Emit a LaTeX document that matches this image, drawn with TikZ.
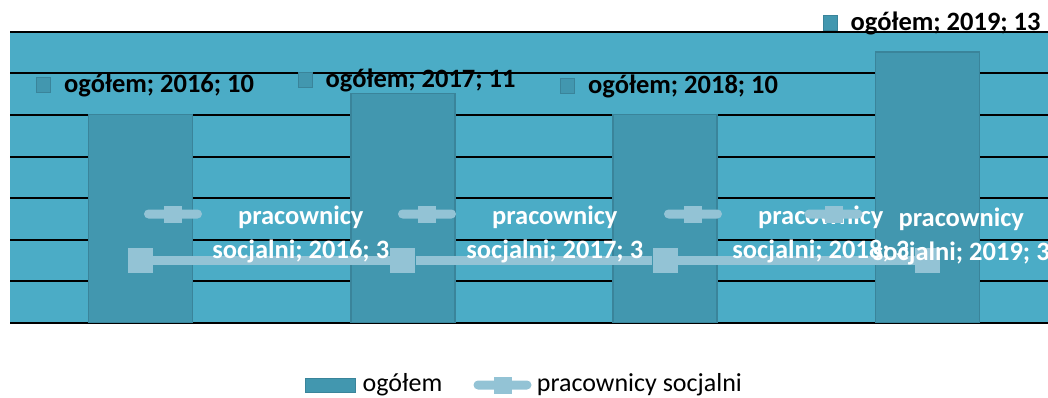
\documentclass[tikz,border=0pt]{standalone}
\usepackage{fontspec}
\setmainfont{Carlito}
\usetikzlibrary{positioning}

\definecolor{plotbg}{RGB}{75,172,198}
\definecolor{barfill}{RGB}{66,151,175}
\definecolor{barline}{RGB}{58,132,154}
\definecolor{linefill}{RGB}{147,195,213}

\tikzset{
    gridline/.style={black,line width=2pt},
    sumbar/.style={draw=barline,fill=barfill,line width=1.5pt,minimum width=104pt,inner sep=0pt,anchor=south},
    sumkey/.style={draw=barline,fill=barfill,line width=1pt,minimum width=14pt,minimum height=15pt,inner sep=0pt},
    staffline/.style={linefill,line width=9pt},
    staffmark/.style={fill=linefill,minimum size=25pt,inner sep=0pt},
    keyline/.style={fill=linefill,minimum width=58pt,minimum height=9pt,rounded corners=4.5pt,inner sep=0pt},
    keymark/.style={fill=linefill,minimum width=18pt,minimum height=17pt,inner sep=0pt},
    sumtext/.style={font=\fontsize{26.5}{31}\selectfont\bfseries,inner sep=0pt},
    stafftext/.style={font=\fontsize{26.5}{34}\selectfont\bfseries,text=white,align=center,inner sep=0pt},
    legendtext/.style={font=\fontsize{26}{31}\selectfont,inner sep=0pt}
}

\begin{document}
\begin{tikzpicture}[x=1pt,y=1pt]

\def\catdistance{262.3}
\def\firstcat{140.5}
\def\unitheight{20.8}
\def\plotbottom{74}

\newcommand\sumlabel[4]
{
    \node[sumkey] (sk#1) at (#2,#3) {};
    \node[sumtext,right=13pt of sk#1] (st#1) {ogółem; #1; #4};
}

\newcommand\stafflabel[4]
{
    \node[keyline] (kl#1) at (#2,#3) {};
    \node[keymark] (km#1) at (kl#1) {};
    \node[stafftext,right=10pt of kl#1,yshift=#4] (tl#1) {pracownicy\\socjalni; #1; 3};
}

\useasboundingbox (0,0) rectangle (1048,397);

\fill[plotbg] (10,\plotbottom) rectangle (1048,{\plotbottom+14*\unitheight});
\foreach \v in {0,2,...,14}
{
    \draw[gridline] (10,{\plotbottom+\v*\unitheight}) -- (1048,{\plotbottom+\v*\unitheight});
}

\foreach \year/\val [count=\i from 0, evaluate=\val as \h using \val*\unitheight] in {2016/10,2017/11,2018/10,2019/13}
{
    \node[sumbar,minimum height=\h pt] (bar\year) at ({\firstcat+\i*\catdistance},\plotbottom) {};
}

\foreach \year [count=\i from 0] in {2016,...,2019}
{
    \node[staffmark] (m\year) at ({\firstcat+\i*\catdistance},{\plotbottom+3*\unitheight}) {};
}
\draw[staffline] (m2016) -- (m2017) -- (m2018) -- (m2019);

\sumlabel{2016}{43.5}{311.5}{10}
\sumlabel{2017}{305}{316.5}{11}
\sumlabel{2018}{567.5}{311}{10}
\sumlabel{2019}{830}{373.5}{13}

\stafflabel{2016}{173}{183}{-20pt}
\stafflabel{2017}{427}{183}{-20pt}
\stafflabel{2018}{693}{183}{-20pt}
\stafflabel{2019}{833.5}{183}{-22pt}

\node[draw=barline,fill=barfill,line width=1pt,minimum width=50pt,minimum height=14pt,inner sep=0pt] (lk1) at (330,12) {};
\node[legendtext,right=7pt of lk1] (lt1) {ogółem};
\node[keyline] (lk2) at (502.5,12) {};
\node[keymark] (lm2) at (lk2) {};
\node[legendtext,right=5pt of lk2] (lt2) {pracownicy socjalni};

\end{tikzpicture}
\end{document}
